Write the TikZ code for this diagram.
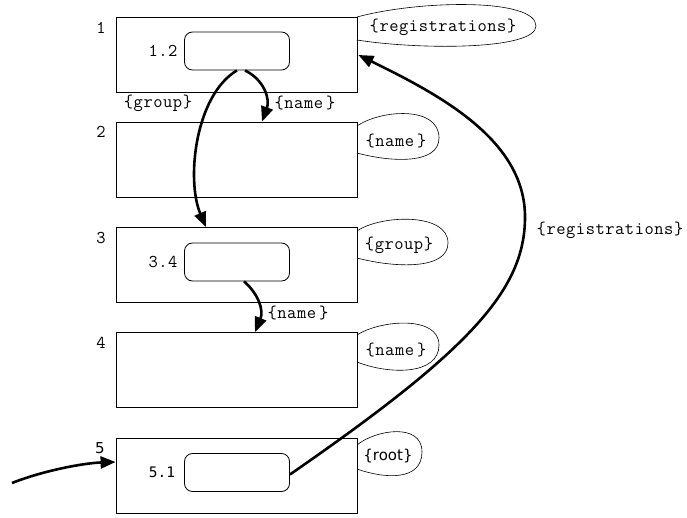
\documentclass[tikz,border=0pt]{standalone}
\usepackage{fontspec}
\newfontfamily\cour[LetterSpace=3]{Latin Modern Mono}
\newfontfamily\dsans{DejaVu Sans}
\newfontfamily\dmono{DejaVu Sans Mono}
\usetikzlibrary{arrows.meta}
\begin{document}
\begin{tikzpicture}[x=1pt,y=-1pt,
  boxnode/.style={draw,line width=0.8pt,minimum width=241pt,minimum height=75pt,inner sep=0pt},
  inner/.style={draw,line width=0.8pt,rounded corners=8pt,minimum width=105pt,minimum height=38pt,inner sep=0pt},
  lbl/.style={font=\fontsize{18}{20}\selectfont\cour,inner sep=0pt},
  blob/.style={line width=0.6pt},
  link/.style={line width=2.6pt,-{Triangle[length=15pt,width=12pt]}},
  linkplain/.style={line width=2.6pt}]
\useasboundingbox (0,0) rectangle (687,518);
% boxes
\node[boxnode] (b1) at (236.5,55) {};
\node[boxnode] (b2) at (236.5,159.5) {};
\node[boxnode] (b3) at (236.5,265) {};
\node[boxnode] (b4) at (236.5,370) {};
\node[boxnode] (b5) at (236.5,475.5) {};
% inner rounded
\node[inner] (n12) at (237,51) {};
\node[inner] (n34) at (237,262) {};
\node[inner] (n51) at (237,472.5) {};
% numbers
\node[lbl] (l1) at (101,28) {1};
\node[lbl] (l2) at (101,132) {2};
\node[lbl] (l3) at (101,238) {3};
\node[lbl] (l4) at (101,343) {4};
\node[font=\fontsize{15}{17}\selectfont\dsans,inner sep=0pt] (l5) at (100,448) {5};
\node[lbl] (t12) at (163,51) {1.2};
\node[lbl] (t34) at (163,262) {3.4};
\node[font=\fontsize{14.5}{17}\selectfont\dmono,inner sep=0pt] (t51) at (162,472) {5.1};
% blobs
\draw[blob] (357,17) .. controls (420,0) and (536,-2) .. (536,26) .. controls (536,50) and (420,50) .. (357,40);
\node[lbl] (r1) at (443,27) {\{registrations\}};
\draw[blob] (357,126) .. controls (380,110) and (439,105) .. (439,138) .. controls (439,165) and (390,162) .. (357,153);
\node[lbl] (r2) at (396,141) {\{name\,\}};
\draw[blob] (357,231) .. controls (380,215) and (448,212) .. (448,243) .. controls (448,270) and (395,268) .. (357,258);
\node[lbl] (r3) at (399,245) {\{group\}};
\draw[blob] (357,335) .. controls (380,320) and (439,315) .. (439,345) .. controls (439,375) and (390,375) .. (357,362);
\node[lbl] (r4) at (396,350) {\{name\,\}};
\draw[blob] (357,445) .. controls (375,430) and (422,422) .. (422,452) .. controls (422,481) and (385,479) .. (357,469);
\node[font=\fontsize{15}{17}\selectfont\dsans,inner sep=0pt] (r5) at (388,456) {\{root\}};
% edge labels
\node[lbl] (e1) at (158,103) {\{group\}};
\node[lbl] (e2) at (305,103) {\{name\,\}};
\node[lbl] (e3) at (298,313) {\{name\,\}};
\node[lbl] (e4) at (610,230) {\{registrations\}};
% connectors
\draw[link] ([xshift=8pt]n12.south) .. controls +(20,10) and +(8,-22) .. ([xshift=25.5pt]b2.north);
\draw[link] (n12.south) .. controls +(-42,25) and +(-20,-47) .. ([xshift=-30.5pt]b3.north);
\draw[link] ([xshift=7pt]n34.south) .. controls +(14,12) and +(9,-22) .. ([xshift=18.5pt]b4.north);
\draw[linkplain] ([yshift=-2pt]n51.east) .. controls (470,350) and (525,290) .. (525,217);
\draw[link] (525,217) .. controls (525,140) and (440,95) .. ([xshift=1pt]b1.east);
\coordinate (in0) at (12,483);
\draw[link] (in0) .. controls (45,470) and (85,463) .. ([yshift=13.5pt]b5.west);
\end{tikzpicture}
\end{document}
